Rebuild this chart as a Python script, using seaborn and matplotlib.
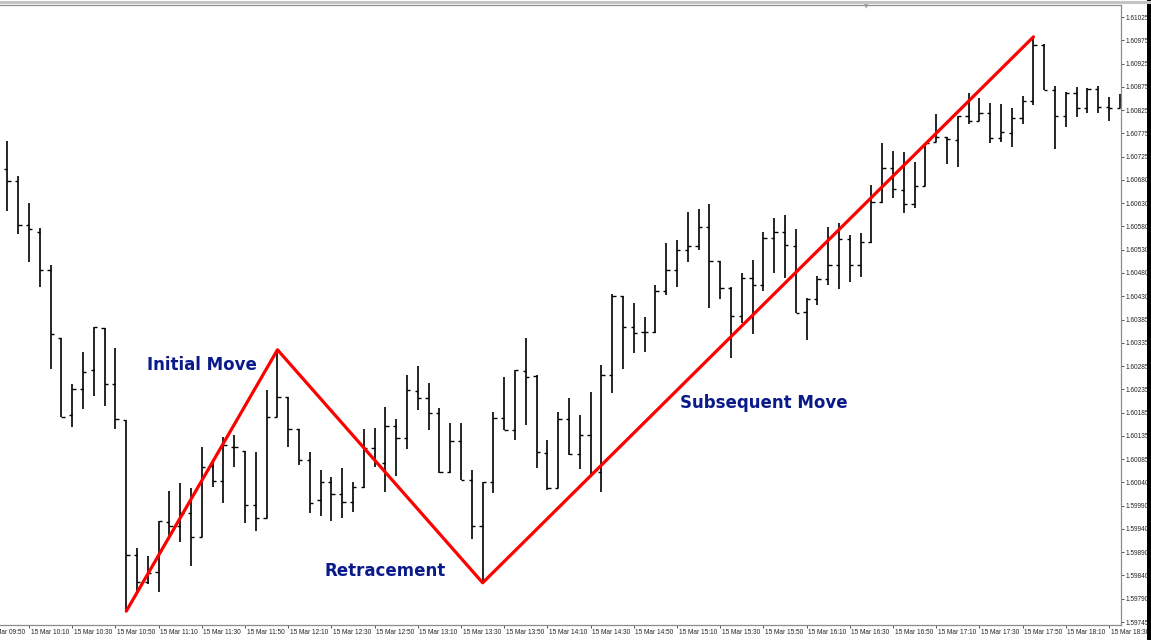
"""
MT4-style 5-minute bar chart, 15 Mar: initial move, retracement, subsequent move.
"""
import numpy as np
import pandas as pd
import matplotlib.pyplot as plt
import matplotlib.transforms as mtransforms
from matplotlib.lines import Line2D
from matplotlib.patches import Rectangle
import seaborn as sns

sns.set_theme(style="white")
plt.rcParams["font.family"] = ["Liberation Sans", "DejaVu Sans"]

RED = "#FF0000"
NAVY = "#0A1A8A"
GREY = "#8C8C8C"

# ---------------------------------------------------------
# data: 5-minute OHLC bars starting 15 Mar 10:00
# ---------------------------------------------------------
first_bar_minute = 10 * 60
bar_minutes = 5

opens = [
    1.60703, 1.60678, 1.60585, 1.60570, 1.60490, 1.60346, 1.60183, 1.60238, 1.60278, 1.60367,
    1.60249, 1.60172, 1.59887, 1.59830, 1.59851, 1.59957, 1.59948, 1.59976, 1.59925, 1.60075,
    1.60043, 1.60115, 1.60107, 1.59993, 1.59965, 1.60179, 1.60221, 1.60153, 1.60088, 1.60003,
    1.60041, 1.60016, 1.59999, 1.60031, 1.60113, 1.60081, 1.60160, 1.60134, 1.60234, 1.60219,
    1.60187, 1.60062, 1.60128, 1.60045, 1.59948, 1.60041, 1.60177, 1.60151, 1.60276, 1.60265,
    1.60103, 1.60029, 1.60174, 1.60100, 1.60141, 1.60062, 1.60268, 1.60435, 1.60369, 1.60359,
    1.60359, 1.60445, 1.60490, 1.60532, 1.60540, 1.60581, 1.60509, 1.60452, 1.60392, 1.60473,
    1.60458, 1.60557, 1.60570, 1.60540, 1.60401, 1.60428, 1.60471, 1.60500, 1.60555, 1.60500,
    1.60549, 1.60634, 1.60705, 1.60659, 1.60629, 1.60667, 1.60761, 1.60771, 1.60765, 1.60816,
    1.60805, 1.60822, 1.60769, 1.60780, 1.60811, 1.60847, 1.60966, 1.60871, 1.60816, 1.60864,
    1.60832, 1.60873, 1.60835, 1.60832,
]
highs = [
    1.60763, 1.60689, 1.60631, 1.60579, 1.60500, 1.60346, 1.60249, 1.60316, 1.60369, 1.60367,
    1.60325, 1.60172, 1.59902, 1.59885, 1.59959, 1.60022, 1.60039, 1.60029, 1.60115, 1.60088,
    1.60136, 1.60141, 1.60107, 1.60105, 1.60236, 1.60321, 1.60221, 1.60153, 1.60105, 1.60067,
    1.60052, 1.60071, 1.60041, 1.60153, 1.60155, 1.60200, 1.60174, 1.60268, 1.60287, 1.60251,
    1.60198, 1.60166, 1.60166, 1.60067, 1.60041, 1.60189, 1.60263, 1.60278, 1.60346, 1.60268,
    1.60130, 1.60189, 1.60219, 1.60183, 1.60232, 1.60289, 1.60439, 1.60435, 1.60420, 1.60390,
    1.60458, 1.60547, 1.60553, 1.60612, 1.60619, 1.60629, 1.60509, 1.60454, 1.60483, 1.60511,
    1.60570, 1.60600, 1.60606, 1.60576, 1.60430, 1.60477, 1.60581, 1.60589, 1.60564, 1.60568,
    1.60670, 1.60758, 1.60741, 1.60739, 1.60718, 1.60758, 1.60820, 1.60771, 1.60816, 1.60864,
    1.60854, 1.60843, 1.60841, 1.60832, 1.60858, 1.60983, 1.60968, 1.60879, 1.60866, 1.60877,
    1.60875, 1.60879, 1.60856, 1.60862,
]
lows = [
    1.60615, 1.60566, 1.60507, 1.60454, 1.60280, 1.60179, 1.60158, 1.60196, 1.60223, 1.60202,
    1.60153, 1.59768, 1.59806, 1.59825, 1.59808, 1.59923, 1.59914, 1.59863, 1.59925, 1.60031,
    1.59997, 1.60073, 1.59954, 1.59938, 1.59965, 1.60179, 1.60115, 1.60077, 1.59976, 1.59969,
    1.59959, 1.59965, 1.59978, 1.60029, 1.60073, 1.60020, 1.60054, 1.60111, 1.60194, 1.60151,
    1.60060, 1.60060, 1.60045, 1.59921, 1.59828, 1.60018, 1.60151, 1.60130, 1.60162, 1.60071,
    1.60024, 1.60029, 1.60098, 1.60069, 1.60052, 1.60020, 1.60229, 1.60280, 1.60314, 1.60316,
    1.60356, 1.60437, 1.60454, 1.60507, 1.60532, 1.60409, 1.60428, 1.60304, 1.60378, 1.60354,
    1.60445, 1.60483, 1.60473, 1.60399, 1.60342, 1.60416, 1.60458, 1.60449, 1.60464, 1.60475,
    1.60547, 1.60631, 1.60642, 1.60610, 1.60621, 1.60667, 1.60761, 1.60714, 1.60708, 1.60799,
    1.60805, 1.60758, 1.60761, 1.60750, 1.60799, 1.60839, 1.60871, 1.60746, 1.60792, 1.60813,
    1.60822, 1.60822, 1.60805, 1.60832,
]
closes = [
    1.60678, 1.60585, 1.60576, 1.60490, 1.60354, 1.60179, 1.60238, 1.60274, 1.60369, 1.60249,
    1.60174, 1.59887, 1.59830, 1.59849, 1.59959, 1.59948, 1.59976, 1.59925, 1.60073, 1.60043,
    1.60119, 1.60115, 1.59993, 1.59965, 1.60179, 1.60221, 1.60153, 1.60088, 1.59997, 1.60041,
    1.60016, 1.59999, 1.60031, 1.60113, 1.60081, 1.60160, 1.60134, 1.60236, 1.60219, 1.60187,
    1.60062, 1.60128, 1.60045, 1.59948, 1.60041, 1.60177, 1.60151, 1.60278, 1.60263, 1.60105,
    1.60029, 1.60174, 1.60100, 1.60141, 1.60062, 1.60268, 1.60435, 1.60369, 1.60356, 1.60359,
    1.60445, 1.60490, 1.60532, 1.60540, 1.60581, 1.60509, 1.60452, 1.60392, 1.60473, 1.60458,
    1.60557, 1.60570, 1.60543, 1.60399, 1.60428, 1.60471, 1.60500, 1.60555, 1.60500, 1.60549,
    1.60634, 1.60705, 1.60661, 1.60629, 1.60667, 1.60758, 1.60771, 1.60767, 1.60816, 1.60805,
    1.60822, 1.60769, 1.60782, 1.60811, 1.60847, 1.60966, 1.60871, 1.60816, 1.60864, 1.60832,
    1.60873, 1.60835, 1.60832, 1.60849,
]

# swing points joined by the red zig-zag
swing_bars = [11, 25, 44, 95]
swing_side = ["low", "high", "low", "high"]

move_labels = ["Initial Move", "Retracement", "Subsequent Move"]
move_label_bar = [18.0, 34.95, 70.05]
move_label_price = [1.60289, 1.59853, 1.60208]

time_labels = [
    "15 Mar 09:50", "15 Mar 10:10", "15 Mar 10:30", "15 Mar 10:50", "15 Mar 11:10",
    "15 Mar 11:30", "15 Mar 11:50", "15 Mar 12:10", "15 Mar 12:30", "15 Mar 12:50",
    "15 Mar 13:10", "15 Mar 13:30", "15 Mar 13:50", "15 Mar 14:10", "15 Mar 14:30",
    "15 Mar 14:50", "15 Mar 15:10", "15 Mar 15:30", "15 Mar 15:50", "15 Mar 16:10",
    "15 Mar 16:30", "15 Mar 16:50", "15 Mar 17:10", "15 Mar 17:30", "15 Mar 17:50",
    "15 Mar 18:10", "15 Mar 18:30",
]
price_labels = [
    "1.61025", "1.60975", "1.60925", "1.60875", "1.60825", "1.60775", "1.60725",
    "1.60680", "1.60630", "1.60580", "1.60530", "1.60480", "1.60430", "1.60385",
    "1.60335", "1.60285", "1.60235", "1.60185", "1.60135", "1.60085", "1.60040",
    "1.59990", "1.59940", "1.59890", "1.59840", "1.59790", "1.59745",
]

df = pd.DataFrame({"open": opens, "high": highs, "low": lows, "close": closes})
df["bar"] = np.arange(len(df))

swings = pd.DataFrame({
    "bar": swing_bars,
    "price": [df.loc[b, s] for b, s in zip(swing_bars, swing_side)],
})

# ---------------------------------------------------------
# figure
# ---------------------------------------------------------
W, H = 1151, 640
fig = plt.figure(figsize=(W / 100, H / 100), dpi=100)
fig.patch.set_facecolor("white")
ax = fig.add_axes([0, 15 / H, 1120.5 / W, 620 / H])

# OHLC bars
ax.vlines(df["bar"], df["low"], df["high"], color="black", linewidth=1.2)
ax.hlines(df["open"], df["bar"] - 0.3, df["bar"], color="black", linewidth=1.0)
ax.hlines(df["close"], df["bar"], df["bar"] + 0.3, color="black", linewidth=1.0)

# red zig-zag
sns.lineplot(data=swings, x="bar", y="price", sort=False, estimator=None,
             color=RED, linewidth=2.3, ax=ax, solid_capstyle="round")

for txt, xb, yp in zip(move_labels, move_label_bar, move_label_price):
    ax.text(xb, yp, txt, ha="center", va="center", color=NAVY,
            fontsize=12, fontweight="bold", family=["DejaVu Sans"])

# axes limits / spines
ax.set_xlim(-0.694, 103.06)
ax.set_ylim(1.597387, 1.610504)
ax.set_xlabel("")
ax.set_ylabel("")
ax.spines["left"].set_visible(False)
for side in ["top", "right", "bottom"]:
    ax.spines[side].set_color(GREY)
    ax.spines[side].set_linewidth(0.9)

# price axis on the right
ax.yaxis.tick_right()
ytick_pos = np.linspace(float(price_labels[0]), float(price_labels[-1]), len(price_labels))
ax.set_yticks(ytick_pos, price_labels)
ax.tick_params(axis="y", right=True, direction="out", length=2.2, width=0.7,
               color="#555555", labelsize=4.7, labelcolor="#222222", pad=1.5)

# time axis: left-aligned labels just right of each tick
tick_bars = []
for lbl in time_labels:
    hh, mm = lbl.split()[-1].split(":")
    tick_bars.append((int(hh) * 60 + int(mm) - first_bar_minute) / bar_minutes)
ax.set_xticks([t for t in tick_bars if -0.694 <= t <= 103.06], [])
ax.tick_params(axis="x", bottom=True, direction="out", length=2.2, width=0.7, color="#555555")
lab_trans = mtransforms.offset_copy(ax.get_xaxis_transform(), fig=fig, x=1.5, y=-3.5, units="dots")
for t, lbl in zip(tick_bars, time_labels):
    ax.text(t, 0, lbl, transform=lab_trans, ha="left", va="top", fontsize=4.7,
            color="#222222", clip_on=False)

# window chrome: top border, chart-shift marker, right black strip
fig.add_artist(Line2D([0, 1], [1 - 1.5 / H, 1 - 1.5 / H], transform=fig.transFigure,
                      color="#C4C4C4", linewidth=2.2))
fig.text(866 / W, 1 - 7 / H, "▼", ha="center", va="center", fontsize=4,
         color="#9A9A9A", family=["DejaVu Sans"])
fig.add_artist(Rectangle((1147 / W, 0), 4 / W, 1, transform=fig.transFigure,
                         color="black", linewidth=0))

fig.savefig("out.png", dpi=100, facecolor="white")
plt.close(fig)
